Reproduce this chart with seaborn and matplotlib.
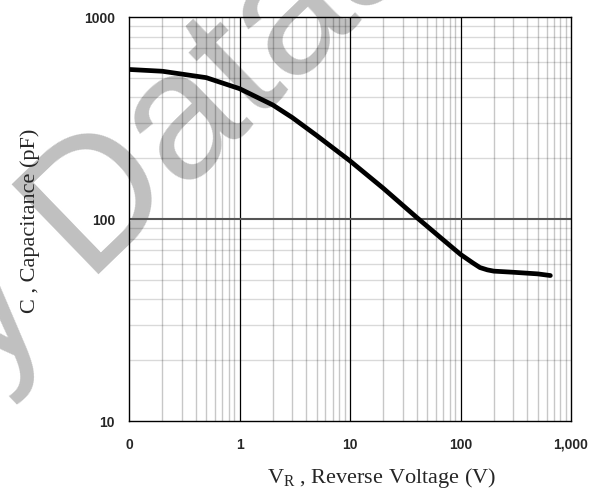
import matplotlib
matplotlib.use("Agg")
import matplotlib.pyplot as plt
from matplotlib.ticker import FixedLocator, LogLocator, NullFormatter
import seaborn as sns
import pandas as pd

# reverse voltage (V) and capacitance (pF)
voltage = [0.1, 0.2, 0.5, 1, 2, 3, 5, 10, 20, 40, 70, 100, 130, 150, 175, 200, 300, 500, 650]
capacitance = [550, 539, 501, 442, 367, 318, 259, 194, 142, 102, 78.7, 66.8, 60.5, 57.5, 56, 55.2, 54.5, 53.5, 52.5]

x_ticks = [0.1, 1, 10, 100, 1000]
x_tick_labels = ["0", "1", "10", "100", "1,000"]
y_ticks = [10, 100, 1000]
y_tick_labels = ["10", "100", "1000"]

sns.set_style("white")
plt.rcParams["font.family"] = ["Liberation Serif", "DejaVu Serif"]
plt.rcParams["mathtext.fontset"] = "custom"
plt.rcParams["mathtext.rm"] = "Liberation Serif"
plt.rcParams["mathtext.it"] = "Liberation Serif:italic"

df = pd.DataFrame({"v": voltage, "c": capacitance})

fig = plt.figure(figsize=(5.95, 4.92), dpi=100)
ax = fig.add_axes([0.2168, 0.1443, 0.7429, 0.8211])
ax.patch.set_facecolor("none")

# watermark behind everything
fig.text(-0.02, 0.224, "y Datasheet", rotation=44, rotation_mode="anchor",
         ha="left", va="baseline", fontsize=130, color="#c0c0c0",
         family="Liberation Sans", zorder=-5)

ax.set_xscale("log")
ax.set_yscale("log")
ax.set_xlim(0.1, 1000)
ax.set_ylim(10, 1000)

ax.xaxis.set_minor_locator(LogLocator(base=10, subs=range(2, 10)))
ax.yaxis.set_minor_locator(LogLocator(base=10, subs=range(2, 10)))
ax.xaxis.set_minor_formatter(NullFormatter())
ax.yaxis.set_minor_formatter(NullFormatter())
ax.grid(which="minor", axis="x", color="black", alpha=0.22, lw=1.0)
ax.grid(which="minor", axis="y", color="black", alpha=0.15, lw=1.0)
for xv in [1, 10, 100]:
    ax.axvline(xv, color="black", lw=0.9, zorder=2)
ax.axhline(100, color="#555555", lw=1.5, zorder=2)

sns.lineplot(data=df, x="v", y="c", ax=ax, color="black", lw=3.4, sort=False, zorder=5)

ax.xaxis.set_major_locator(FixedLocator(x_ticks))
ax.set_xticklabels(x_tick_labels)
ax.yaxis.set_major_locator(FixedLocator(y_ticks))
ax.set_yticklabels(y_tick_labels)
ax.tick_params(which="both", length=0)
ax.tick_params(axis="x", pad=12)
ax.tick_params(axis="y", pad=10)
for lab in ax.get_xticklabels() + ax.get_yticklabels():
    lab.set_family("Liberation Sans")
    lab.set_fontweight("bold")
    lab.set_fontsize(10)

for sp in ax.spines.values():
    sp.set_visible(True)
    sp.set_color("black")
    sp.set_linewidth(1.0)

ax.set_xlabel(r"$\mathrm{V_R}$ , Reverse Voltage (V)", fontsize=16)
ax.set_ylabel("C , Capacitance (pF)", fontsize=16)
ax.xaxis.set_label_coords(0.572, -0.112)
ax.yaxis.set_label_coords(-0.201, 0.495)

fig.savefig("out.png", dpi=100)
